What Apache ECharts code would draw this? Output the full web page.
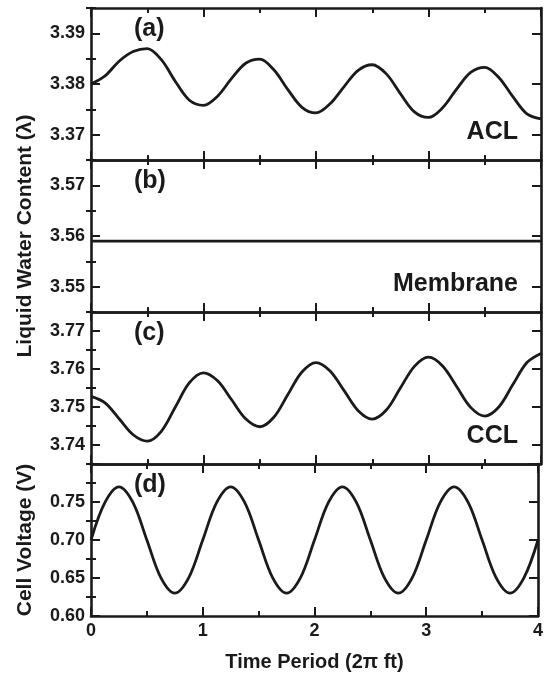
<!DOCTYPE html>
<html><head><meta charset="utf-8">
<script src="https://cdn.jsdelivr.net/npm/echarts@6/dist/echarts.min.js"></script>
<style>html,body{margin:0;padding:0;background:#fff}#c{width:546px;height:675px}</style>
</head><body><div id="c"></div>
<script>
// ---- data ----
const time = [0,0.125,0.25,0.375,0.5,0.625,0.75,0.875,1,1.125,1.25,1.375,1.5,1.625,1.75,1.875,2,2.125,2.25,2.375,2.5,2.625,2.75,2.875,3,3.125,3.25,3.375,3.5,3.625,3.75,3.875,4];
const aclValues = [3.3800,3.3816,3.3845,3.3864,3.3870,3.3848,3.3805,3.3768,3.3758,3.3776,3.3811,3.3841,3.3849,3.3828,3.3789,3.3754,3.3743,3.3761,3.3795,3.3827,3.3838,3.3820,3.3781,3.3745,3.3734,3.3753,3.3790,3.3823,3.3833,3.3813,3.3775,3.3741,3.3731];
const membraneTime = [0,4];
const membraneValues = [3.559,3.559];
const cclValues = [3.7528,3.7511,3.7469,3.7427,3.7410,3.7436,3.7500,3.7564,3.7590,3.7569,3.7519,3.7469,3.7448,3.7473,3.7533,3.7592,3.7617,3.7595,3.7543,3.7490,3.7468,3.7492,3.7550,3.7607,3.7631,3.7608,3.7554,3.7499,3.7476,3.7500,3.7559,3.7617,3.7641];
const voltageValues = [0.700,0.7495,0.770,0.7495,0.700,0.6505,0.630,0.6505,0.700,0.7495,0.770,0.7495,0.700,0.6505,0.630,0.6505,0.700,0.7495,0.770,0.7495,0.700,0.6505,0.630,0.6505,0.700,0.7495,0.770,0.7495,0.700,0.6505,0.630,0.6505,0.700];

const xMin = 0, xMax = 4, xInterval = 1;
const panelRanges = [[3.365,3.395],[3.545,3.575],[3.735,3.775],[0.60,0.80]];
const majorTicks = [[3.37,3.38,3.39],[3.55,3.56,3.57],[3.74,3.75,3.76,3.77],[0.60,0.65,0.70,0.75,0.80]];
const minorTicks = [[3.365,3.375,3.385,3.395],[3.545,3.555,3.565,3.575],[3.735,3.745,3.755,3.765,3.775],[0.625,0.675,0.725,0.775]];
const panelTags = ['(a)','(b)','(c)','(d)'];
const panelNames = ['ACL','Membrane','CCL',''];
const xTitle = 'Time Period (2\u03c0 ft)';
const yTitleWater = 'Liquid Water Content (\u03bb)';
const yTitleVoltage = 'Cell Voltage (V)';

// ---- layout ----
const FONT = '"Liberation Sans", Arial, sans-serif';
const INK = '#1a1a1a';
const tops = [8,160,312,464];
const H = 152, LEFT = 91, RIGHT = 5;

const seriesData = [
  time.map((t,i)=>[t, aclValues[i]]),
  membraneTime.map((t,i)=>[t, membraneValues[i]]),
  time.map((t,i)=>[t, cclValues[i]]),
  time.map((t,i)=>[t, voltageValues[i]])
];

const grids = [], xAxes = [], yAxes = [], series = [], graphics = [];
const lineStyle = {color: INK, width: 2.6};
for (let i = 0; i < 4; i++) {
  grids.push({left: LEFT, right: RIGHT, top: tops[i], height: H});
  ['bottom','top'].forEach((pos) => {
    const showLab = (i === 3 && pos === 'bottom');
    const ax = {
      type: 'value', gridIndex: i, position: pos, min: xMin, max: xMax, interval: xInterval,
      axisLine: {show: true, onZero: false, lineStyle: lineStyle},
      axisTick: {show: true, inside: true, length: 9, lineStyle: {color: INK, width: 2}},
      minorTick: {show: true, splitNumber: 2, length: 5, lineStyle: {color: INK, width: 2}},
      axisLabel: {show: showLab, color: INK, fontFamily: FONT, fontWeight: 'bold', fontSize: 18, margin: 6},
      splitLine: {show: false}, minorSplitLine: {show: false}
    };
    if (showLab) {
      ax.name = xTitle; ax.nameLocation = 'middle'; ax.nameGap = 36;
      ax.nameTextStyle = {color: INK, fontFamily: FONT, fontWeight: 'bold', fontSize: 20};
    }
    xAxes.push(ax);
  });
  const [mn, mx] = panelRanges[i];
  ['left','right'].forEach((pos) => {
    const major = {
      type: 'value', gridIndex: i, position: pos, min: mn, max: mx,
      axisLine: {show: true, onZero: false, lineStyle: lineStyle},
      axisTick: {show: true, inside: true, length: 9, customValues: majorTicks[i], lineStyle: {color: INK, width: 2}},
      axisLabel: {show: pos === 'left', customValues: majorTicks[i].filter(v => v < mx - 1e-9),
        formatter: v => Number(v).toFixed(2), color: INK, fontFamily: FONT, fontWeight: 'bold', fontSize: 18, margin: 6},
      splitLine: {show: false}
    };
    if (pos === 'left' && (i === 1 || i === 3)) {
      major.name = i === 1 ? yTitleWater : yTitleVoltage;
      major.nameLocation = 'middle'; major.nameGap = 55;
      major.nameTextStyle = {color: INK, fontFamily: FONT, fontWeight: 'bold', fontSize: 21};
    }
    yAxes.push(major);
    yAxes.push({
      type: 'value', gridIndex: i, position: pos, min: mn, max: mx,
      axisLine: {show: false},
      axisTick: {show: true, inside: true, length: 5, customValues: minorTicks[i], lineStyle: {color: INK, width: 2}},
      axisLabel: {show: false}, splitLine: {show: false}
    });
  });
  series.push({
    type: 'line', xAxisIndex: 2*i, yAxisIndex: 4*i, data: seriesData[i],
    smooth: 0.34, symbol: 'none', lineStyle: {color: INK, width: 2.8}, silent: true, animation: false
  });
  graphics.push({type: 'text', left: 134, top: tops[i] + 9,
    style: {text: panelTags[i], font: 'bold 25px ' + FONT, fill: INK}});
  if (panelNames[i]) {
    graphics.push({type: 'text', right: 546 - 518, top: tops[i] + H - 40,
      style: {text: panelNames[i], font: 'bold 25px ' + FONT, fill: INK}});
  }
}

const chart = echarts.init(document.getElementById('c'), null, {renderer: 'canvas'});
chart.setOption({
  animation: false,
  backgroundColor: '#fff',
  grid: grids, xAxis: xAxes, yAxis: yAxes, series: series, graphic: graphics
});
</script></body></html>
